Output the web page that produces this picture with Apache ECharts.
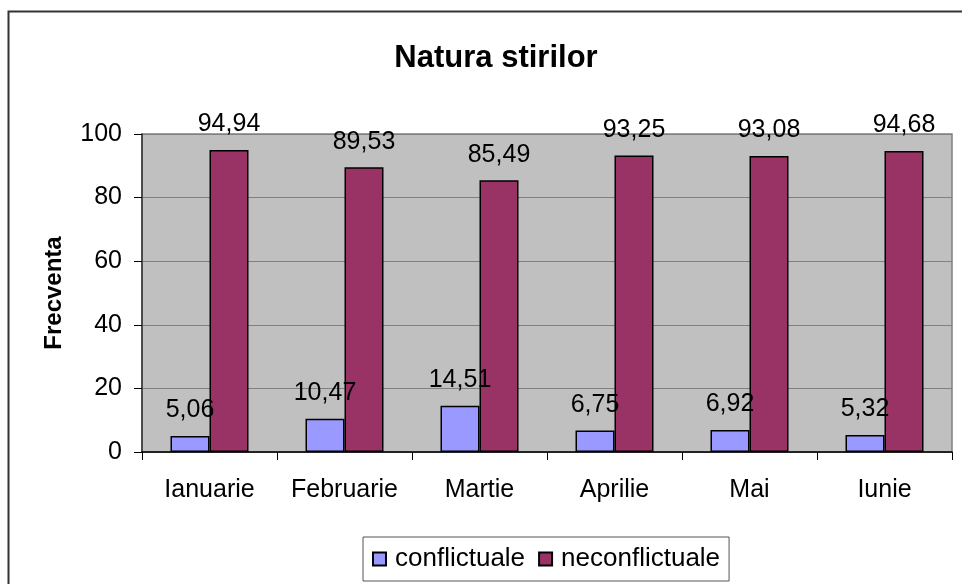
<!DOCTYPE html>
<html>
<head>
<meta charset="utf-8">
<script src="https://cdn.jsdelivr.net/npm/echarts@6/dist/echarts.min.js"></script>
<style>
  html, body { margin: 0; padding: 0; background: #fff; }
  #chart { width: 962px; height: 584px; }
</style>
</head>
<body>
<div id="chart"></div>
<script>
const months = ['Ianuarie', 'Februarie', 'Martie', 'Aprilie', 'Mai', 'Iunie']
const conflictuale = [5.06, 10.47, 14.51, 6.75, 6.92, 5.32]
const neconflictuale = [94.94, 89.53, 85.49, 93.25, 93.08, 94.68]

const font = 'Liberation Sans, Arial, sans-serif'

// etichete cu virgula zecimala
const fmt = (p) => p.value.toFixed(2).replace('.', ',')

const labelStyle = {
  show: true,
  position: 'top',
  distance: 13,
  color: '#000',
  fontFamily: font,
  fontSize: 25,
  formatter: fmt
}

let option = {
  animation: false,
  textStyle: { fontFamily: font },
  title: {
    text: 'Natura stirilor',
    left: 491,
    top: 38,
    textAlign: 'center',
    textStyle: {
      fontFamily: font,
      fontSize: 31,
      fontWeight: 'bold',
      color: '#000'
    }
  },
  graphic: [
    {
      type: 'rect',
      left: 6,
      top: 9,
      shape: { width: 1000, height: 620 },
      style: { fill: 'none', stroke: '#333', lineWidth: 2 },
      z: -10
    }
  ],
  legend: {
    left: 363,
    top: 537,
    data: ['conflictuale', 'neconflictuale'],
    itemWidth: 13,
    itemHeight: 13,
    itemGap: 13,
    padding: [9, 9, 9, 9],
    borderColor: '#555',
    borderWidth: 1,
    icon: 'rect',
    textStyle: { fontFamily: font, fontSize: 26, color: '#000', padding: [0, 0, 0, 4] }
  },
  grid: {
    left: 142,
    right: 10,
    top: 134,
    bottom: 132,
    show: true,
    backgroundColor: '#C0C0C0',
    borderColor: '#808080',
    borderWidth: 1.5
  },
  xAxis: {
    type: 'category',
    data: months,
    axisLine: { lineStyle: { color: '#000', width: 1.5 } },
    axisTick: { show: true, length: 8, inside: false, lineStyle: { color: '#000' } },
    axisLabel: { interval: 0, color: '#000', fontFamily: font, fontSize: 25, margin: 26 }
  },
  yAxis: {
    type: 'value',
    min: 0,
    max: 100,
    interval: 20,
    name: 'Frecventa',
    nameLocation: 'middle',
    nameGap: 76,
    nameRotate: 90,
    nameTextStyle: { fontFamily: font, fontSize: 24, fontWeight: 'bold', color: '#000' },
    axisLine: { show: true, lineStyle: { color: '#333', width: 1.5 } },
    axisTick: { show: true, length: 8, lineStyle: { color: '#000' } },
    axisLabel: { color: '#000', fontFamily: font, fontSize: 25, margin: 20 },
    splitLine: { show: true, lineStyle: { color: '#808080', width: 1 } }
  },
  series: [
    {
      name: 'conflictuale',
      type: 'bar',
      data: conflictuale,
      barWidth: 39,
      barGap: 0,
      itemStyle: { color: '#9999FF', borderColor: '#000', borderWidth: 1.5 },
      label: labelStyle
    },
    {
      name: 'neconflictuale',
      type: 'bar',
      data: neconflictuale,
      barWidth: 39,
      barGap: 0,
      itemStyle: { color: '#993366', borderColor: '#000', borderWidth: 1.5 },
      label: labelStyle
    }
  ]
}

var myChart = echarts.init(document.getElementById('chart'))
myChart.setOption(option)
</script>
</body>
</html>
